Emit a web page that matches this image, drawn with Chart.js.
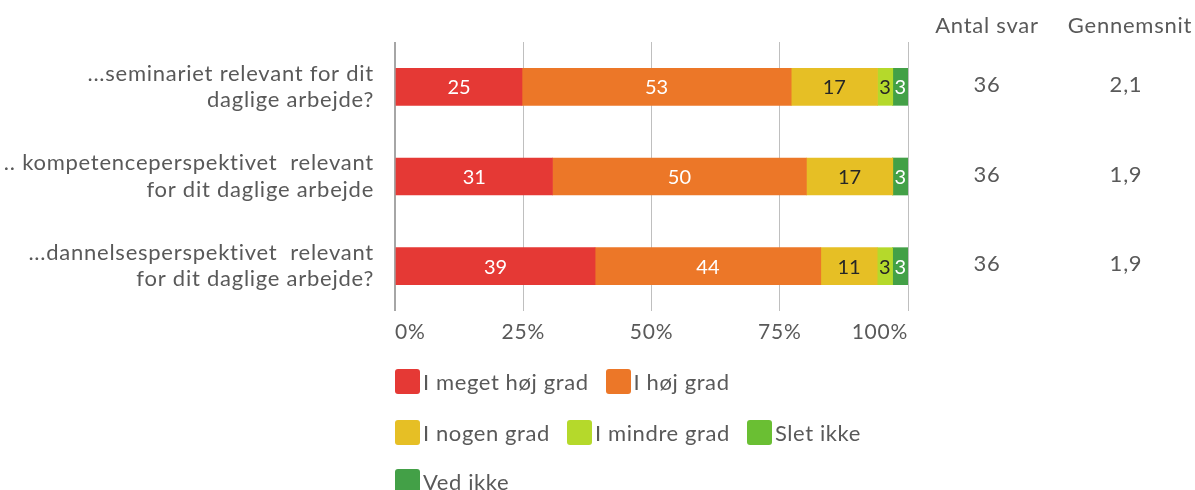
<!DOCTYPE html>
<html>
<head>
<meta charset="utf-8">
<script src="https://cdn.jsdelivr.net/npm/chart.js@4/dist/chart.umd.min.js"></script>
<style>
  html, body { margin: 0; padding: 0; background: #fff; }
  #wrap { position: relative; width: 1195px; height: 490px; overflow: hidden; }
  #chart { display: block; }
  #legend { position: absolute; left: 395px; top: 0; font-family: Lato, sans-serif; font-size: 22px; letter-spacing: 0.6px; color: #595959; }
  .lg-row { position: absolute; left: 0; display: flex; align-items: center; white-space: nowrap; height: 26px; }
  .lg-item { display: flex; align-items: center; margin-right: 17px; }
  .lg-box { width: 25px; height: 25px; border-radius: 3px; margin-right: 3px; }
</style>
</head>
<body>
<div id="wrap">
  <canvas id="chart" width="1195" height="490"></canvas>
  <div id="legend"></div>
</div>
<script>
// ---- Data ----
const categories = [
  ['...seminariet relevant for dit', 'daglige arbejde?'],
  ['.. kompetenceperspektivet  relevant', 'for dit daglige arbejde'],
  ['...dannelsesperspektivet  relevant', 'for dit daglige arbejde?']
];
const seriesNames = ['I meget høj grad', 'I høj grad', 'I nogen grad', 'I mindre grad', 'Slet ikke', 'Ved ikke'];
const meget  = [25, 31, 39];
const hoej   = [53, 50, 44];
const nogen  = [17, 17, 11];
const mindre = [3, 0, 3];
const slet   = [0, 0, 0];
const vedIkke = [3, 3, 3];
const antalSvar  = ['36', '36', '36'];
const gennemsnit = ['2,1', '1,9', '1,9'];
const xTicks = [0, 25, 50, 75, 100];
const columnHeads = ['Antal svar', 'Gennemsnit'];

// ---- Styles ----
const COLORS = ['#e53935', '#ec7728', '#e6bf25', '#b5d92b', '#6abf33', '#43a047'];
const LABEL_COLORS = ['#ffffff', '#ffffff', '#262626', '#262626', '#262626', '#ffffff'];
const TEXT = '#595959';
const FONT = 'Lato, sans-serif';

const series = [meget, hoej, nogen, mindre, slet, vedIkke];
// each row is shown as share of its own total (labels are rounded percentages)
const rowTotals = categories.map((_, i) => series.reduce((s, arr) => s + arr[i], 0));

const datasets = series.map((arr, si) => ({
  label: seriesNames[si],
  data: arr.map((v, i) => v / rowTotals[i] * 100),
  shown: arr,
  backgroundColor: COLORS[si],
  borderWidth: 0,
  barThickness: 37
}));

// ---- Plugins ----
// wider letter spacing, closer to the original's Gill Sans
const spacing = {
  id: 'spacing',
  beforeLayout(chart) { chart.ctx.letterSpacing = '0.75px'; },
  beforeDraw(chart) { chart.ctx.letterSpacing = '0.75px'; }
};

const segLabels = {
  id: 'segLabels',
  afterDatasetsDraw(chart) {
    const ctx = chart.ctx;
    ctx.save();
    ctx.letterSpacing = '0px';
    ctx.font = '20px ' + FONT;
    ctx.textAlign = 'center';
    ctx.textBaseline = 'middle';
    chart.data.datasets.forEach((ds, di) => {
      const meta = chart.getDatasetMeta(di);
      meta.data.forEach((bar, i) => {
        const v = ds.shown[i];
        if (!v) return;
        ctx.fillStyle = LABEL_COLORS[di];
        ctx.fillText(String(v), (bar.x + bar.base) / 2, bar.y + 1);
      });
    });
    ctx.restore();
  }
};

const sideColumns = {
  id: 'sideColumns',
  afterDraw(chart) {
    const ctx = chart.ctx;
    const y = chart.scales.y;
    const cols = [987, 1130];
    ctx.save();
    ctx.font = '22px ' + FONT;
    ctx.fillStyle = TEXT;
    ctx.textAlign = 'center';
    ctx.textBaseline = 'middle';
    ctx.fillText(columnHeads[0], cols[0], 26);
    ctx.fillText(columnHeads[1], cols[1], 26);
    categories.forEach((_, i) => {
      const py = y.getPixelForValue(i) - 2;
      ctx.fillText(antalSvar[i], cols[0], py);
      ctx.fillText(gennemsnit[i], cols[1] - 4, py);
    });
    ctx.restore();
  }
};

// ---- Chart ----
new Chart(document.getElementById('chart'), {
  type: 'bar',
  data: { labels: categories, datasets },
  options: {
    indexAxis: 'y',
    responsive: false,
    animation: false,
    layout: { padding: { top: 42, right: 287, bottom: 139, left: 0 } },
    plugins: { legend: { display: false }, tooltip: { enabled: false } },
    scales: {
      x: {
        stacked: true,
        min: 0,
        max: 100,
        afterBuildTicks: s => { s.ticks = xTicks.map(v => ({ value: v })); },
        afterFit: s => { s.height = 40; },
        border: { display: false },
        grid: {
          drawTicks: false,
          color: c => c.tick && c.tick.value === 0 ? '#a6a6a6' : '#bfbfbf',
          lineWidth: c => c.tick && c.tick.value === 0 ? 2 : 1
        },
        ticks: {
          align: 'inner',
          padding: 9,
          color: TEXT,
          font: { family: FONT, size: 21 },
          callback: v => v + '%'
        }
      },
      y: {
        stacked: true,
        afterFit: s => { s.width = 395; s.paddingTop = 0; s.paddingBottom = 0; },
        border: { display: false },
        grid: { display: false },
        ticks: {
          padding: 13,
          color: TEXT,
          font: { family: FONT, size: 22, lineHeight: 1.2 }
        }
      }
    }
  },
  plugins: [spacing, segLabels, sideColumns]
});

// ---- Legend (HTML) ----
const legendRows = [[0, 1], [2, 3, 4], [5]];
const legendTops = [368, 419, 468];
const legend = document.getElementById('legend');
legendRows.forEach((row, r) => {
  const div = document.createElement('div');
  div.className = 'lg-row';
  div.style.top = legendTops[r] + 'px';
  row.forEach(si => {
    const item = document.createElement('div');
    item.className = 'lg-item';
    item.innerHTML = '<span class="lg-box" style="background:' + COLORS[si] + '"></span><span>' + seriesNames[si] + '</span>';
    div.appendChild(item);
  });
  legend.appendChild(div);
});
</script>
</body>
</html>
